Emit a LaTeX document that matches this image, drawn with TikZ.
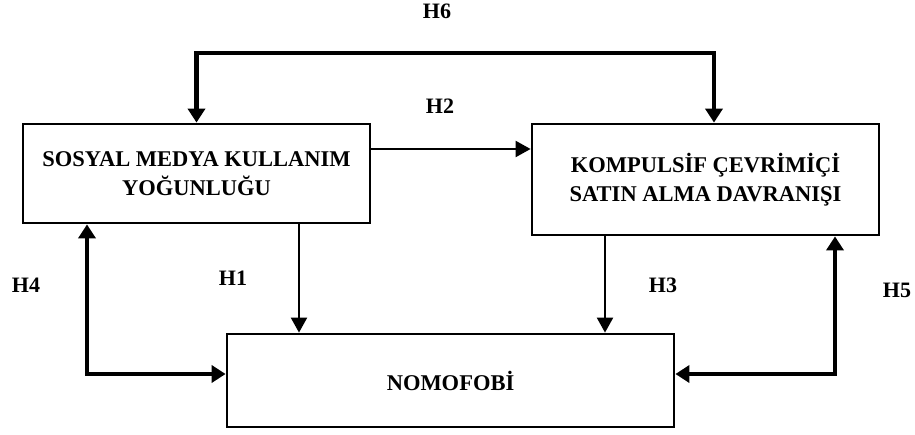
\documentclass[tikz,border=0pt]{standalone}
\usepackage{fontspec}
\setmainfont{Liberation Serif}
\usetikzlibrary{arrows.meta}
\begin{document}
\begin{tikzpicture}[x=1pt,y=-1pt,
  box/.style={draw, line width=2.8pt, inner sep=0pt, align=center,
    font=\fontsize{22.5}{29}\selectfont\bfseries},
  lab/.style={inner sep=0pt, font=\fontsize{22}{26}\selectfont\bfseries},
  thinarrow/.style={line width=2.2pt, -{Triangle[length=15pt,width=16pt]}},
  thickline/.style={line width=4.3pt, {Triangle[length=14pt,width=17pt]}-{Triangle[length=14pt,width=17pt]}}]
\useasboundingbox (0,0) rectangle (915,434);
\node[box, minimum width=347pt, minimum height=99pt] (L) at (196.5,173.5) {SOSYAL MEDYA KULLANIM\\YOĞUNLUĞU};
\node[box, minimum width=347pt, minimum height=111pt] (R) at (705.5,179.5) {KOMPULSİF ÇEVRİMİÇİ\\SATIN ALMA DAVRANIŞI};
\node[box, minimum width=447pt, minimum height=93pt] (B) at (450.5,380.5) {NOMOFOBİ};
% H6
\coordinate (top) at (455,53);
\draw[thickline, line join=miter] (L.north) |- (top) -| ([xshift=8.5pt]R.north);
% H2
\coordinate (h2s) at ([yshift=24.5pt]L.east);
\draw[thinarrow] (h2s) -- (R.west |- h2s);
% H1
\coordinate (h1s) at ([xshift=102.5pt]L.south);
\draw[thinarrow] (h1s) -- (B.north -| h1s);
% H3
\coordinate (h3s) at ([xshift=-100.5pt]R.south);
\draw[thinarrow] (h3s) -- (B.north -| h3s);
% H4
\draw[thickline, line join=miter] ([xshift=-109.5pt]L.south) |- ([yshift=6.5pt]B.west);
% H5
\draw[thickline, line join=miter] ([xshift=129.5pt]R.south) |- ([yshift=6.5pt]B.east);
% labels
\node[lab] (l6) at (437,11) {H6};
\node[lab] (l2) at (440,106) {H2};
\node[lab] (l1) at (233,278) {H1};
\node[lab] (l4) at (26,285) {H4};
\node[lab] (l3) at (663,285) {H3};
\node[lab] (l5) at (897,290) {H5};
\end{tikzpicture}
\end{document}
